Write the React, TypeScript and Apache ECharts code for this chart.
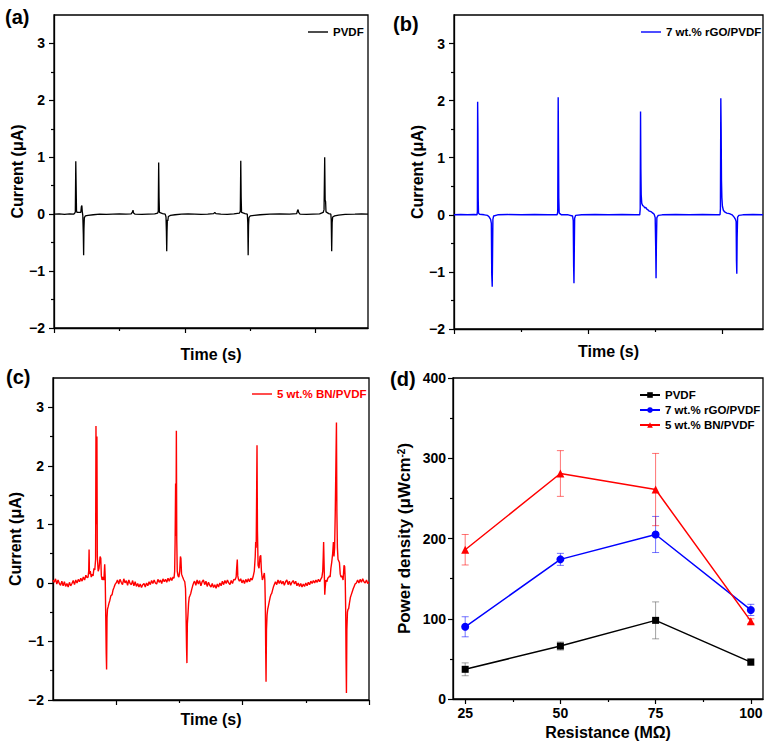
import React, { useEffect, useRef } from "react";
import * as echarts from "echarts";

const FONT = "'Liberation Sans', Arial, sans-serif";

// ---------- (a) PVDF current trace: [time, current µA] ----------
const pvdfCurrent: [number, number][] = [
  [0.0, 0.0], [0.08, 0.005], [0.16, -0.005], [0.24, 0.005], [0.3, 0.0],
  [0.318, 0.02], [0.326, 0.04], [0.333, 0.93], [0.339, 0.45], [0.344, 0.06], [0.352, 0.03],
  [0.41, 0.03], [0.418, 0.13], [0.426, 0.15], [0.432, 0.05], [0.44, -0.02],
  [0.448, -0.35], [0.453, -0.72], [0.458, -0.25], [0.464, -0.06], [0.48, -0.03],
  [0.52, -0.02], [0.6, -0.01], [0.7, 0.0], [0.8, -0.005], [0.9, 0.0], [1.0, 0.005],
  [1.1, 0.0], [1.18, 0.005], [1.2, 0.04], [1.208, 0.07], [1.216, 0.02], [1.24, 0.0],
  [1.34, -0.005], [1.44, 0.0], [1.54, 0.005], [1.585, 0.02], [1.594, 0.05], [1.6, 0.91],
  [1.606, 0.3], [1.612, 0.03], [1.66, 0.01], [1.7, 0.0], [1.712, -0.05], [1.718, -0.3],
  [1.723, -0.65], [1.728, -0.3], [1.733, -0.1], [1.74, -0.12], [1.748, -0.04], [1.78, -0.02],
  [1.85, -0.01], [1.95, 0.0], [2.05, 0.005], [2.15, 0.0], [2.25, -0.005], [2.35, 0.0],
  [2.44, 0.01], [2.458, 0.03], [2.466, 0.035], [2.475, 0.01], [2.55, 0.0], [2.65, -0.005],
  [2.75, 0.005], [2.835, 0.02], [2.848, 0.05], [2.855, 0.94], [2.861, 0.3], [2.867, 0.03],
  [2.92, 0.01], [2.955, 0.0], [2.962, -0.15], [2.968, -0.72], [2.974, -0.2], [2.98, -0.06],
  [3.0, -0.03], [3.06, -0.02], [3.15, -0.01], [3.3, 0.0], [3.45, 0.005], [3.6, 0.0],
  [3.71, 0.01], [3.722, 0.06], [3.731, 0.08], [3.74, 0.03], [3.76, 0.0], [3.86, -0.005],
  [3.96, 0.0], [4.06, 0.005], [4.115, 0.03], [4.128, 0.08], [4.138, 1.0], [4.145, 0.25],
  [4.152, 0.22], [4.158, 0.04], [4.2, 0.01], [4.232, 0.0], [4.238, -0.1], [4.245, -0.65],
  [4.252, -0.15], [4.26, -0.05], [4.29, -0.03], [4.35, -0.015], [4.45, -0.005], [4.6, 0.0],
  [4.7, 0.005], [4.8, 0.0],
];

// ---------- (b) 7 wt.% rGO/PVDF current trace ----------
const rgoCurrent: [number, number][] = [
  [0.0, 0.0], [0.1, 0.005], [0.2, 0.0], [0.3, 0.005], [0.342, 0.0], [0.348, 0.05],
  [0.352, 1.98], [0.356, 1.5], [0.36, 0.3], [0.365, 0.03], [0.38, 0.01], [0.45, 0.0],
  [0.5, -0.01], [0.525, -0.04], [0.545, -0.08], [0.556, -0.15], [0.562, -1.05], [0.569, -1.26],
  [0.574, -0.7], [0.579, -0.08], [0.59, -0.02], [0.65, 0.0], [0.8, 0.005], [1.0, 0.0],
  [1.2, 0.005], [1.4, 0.0], [1.535, 0.0], [1.544, 0.05], [1.551, 2.06], [1.556, 1.1],
  [1.56, 0.3], [1.566, 0.03], [1.6, 0.0], [1.7, 0.0], [1.765, -0.02], [1.775, -0.1],
  [1.781, -0.9], [1.786, -1.2], [1.791, -0.6], [1.796, -0.06], [1.81, -0.01], [1.9, 0.0],
  [2.1, 0.005], [2.3, 0.0], [2.5, 0.005], [2.7, 0.0], [2.765, 0.0], [2.772, 0.1],
  [2.777, 1.81], [2.782, 0.8], [2.787, 0.35], [2.795, 0.2], [2.81, 0.16], [2.825, 0.15],
  [2.84, 0.12], [2.855, 0.13], [2.87, 0.1], [2.885, 0.09], [2.9, 0.07], [2.92, 0.06],
  [2.94, 0.05], [2.96, 0.03], [2.98, 0.01], [2.995, -0.05], [3.003, -0.6], [3.008, -1.11],
  [3.013, -0.5], [3.02, -0.05], [3.04, -0.01], [3.1, 0.0], [3.3, 0.005], [3.5, 0.0],
  [3.7, 0.005], [3.9, 0.0], [3.96, 0.0], [3.966, 0.1], [3.972, 2.04], [3.977, 1.5],
  [3.982, 0.6], [3.988, 0.3], [3.996, 0.15], [4.01, 0.08], [4.03, 0.05], [4.06, 0.03],
  [4.1, 0.02], [4.14, 0.0], [4.17, -0.04], [4.19, -0.08], [4.2, -0.12], [4.205, -0.8],
  [4.21, -1.03], [4.215, -0.4], [4.222, -0.04], [4.24, -0.01], [4.3, 0.0], [4.45, 0.005],
  [4.6, 0.0],
];

// ---------- (c) 5 wt.% BN/PVDF current trace ----------
// Quiet stretches are logged every BN_DT seconds; pulses are listed point by point.
const BN_DT = 0.02;
const bnQuiet: { t0: number; values: number[] }[] = [
  { t0: 0.0, values: [0.05, 0.01, 0.07, -0.02, 0.05, -0.01, -0.04, 0.03, -0.05, 0.02, -0.06, -0.01, -0.07, 0.01, -0.05, -0.01, 0.04, -0.03, 0.05, 0.0, 0.06, 0.02, 0.08, 0.03, 0.1, 0.05, 0.13, 0.09] },
  { t0: 1.0, values: [0.0, 0.05, -0.02, 0.06, 0.01, -0.03, 0.07, 0.0, 0.04, -0.04, 0.05, -0.01, -0.03, 0.04, -0.05, 0.02, -0.06, -0.01, -0.07, -0.02, -0.08, -0.03, -0.01, -0.07, 0.0, -0.05, 0.02, -0.03, 0.04, -0.01, 0.05, 0.0, -0.02, 0.06, 0.01, 0.05, -0.01, 0.07, 0.02, 0.06, 0.01, 0.08, 0.03, 0.09, 0.04, 0.1] },
  { t0: 2.24, values: [0.03, -0.04, 0.05, -0.02, 0.04, -0.05, 0.02, 0.05, -0.03, 0.03, -0.06, 0.01, -0.04, -0.07, -0.01, -0.08, -0.03, -0.09, -0.02, -0.07, 0.0, -0.05, 0.03, -0.03, 0.04, -0.01, 0.05, 0.0, -0.03, 0.04, -0.01, 0.06, 0.05] },
  { t0: 2.95, values: [0.03, 0.07, 0.0, 0.05, -0.01, 0.06, 0.01, 0.07, 0.02, 0.08, 0.05] },
  { t0: 3.52, values: [0.02, -0.03, 0.05, -0.01, 0.04, -0.02, 0.03, -0.04, 0.02, 0.05, -0.03, 0.03, -0.04, 0.01, 0.04, -0.02, 0.03, -0.05, 0.0, -0.06, -0.01, -0.07, -0.02, -0.06, 0.0, -0.05, 0.01, -0.03, 0.03, -0.01, 0.04, 0.0, 0.05, 0.01, 0.06, 0.02, 0.07] },
  { t0: 4.8, values: [0.0, 0.05, 0.0, 0.06, 0.01, 0.07, 0.02, 0.0, 0.05, -0.01, 0.02] },
];
const bnPulses: [number, number][] = [
  [0.555, 0.1], [0.565, 0.2], [0.571, 0.57], [0.577, 0.15], [0.59, 0.2], [0.605, 0.1],
  [0.62, 0.15], [0.634, 0.12], [0.648, 0.25], [0.661, 0.22], [0.674, 0.4], [0.68, 2.68],
  [0.688, 1.0], [0.695, 2.5], [0.701, 0.45], [0.715, 0.2], [0.729, 0.25], [0.745, 0.45],
  [0.756, 0.42], [0.765, 0.12], [0.777, 0.05], [0.79, 0.1], [0.805, 0.05], [0.818, 0.32],
  [0.826, 0.1], [0.833, -0.45], [0.842, -1.2], [0.848, -1.48], [0.855, -0.6], [0.862, -0.45],
  [0.872, -0.41], [0.885, -0.35], [0.899, -0.3], [0.915, -0.22], [0.935, -0.2], [0.95, -0.12],
  [0.965, -0.08], [0.985, -0.02],
  [1.915, 0.08], [1.925, 0.2], [1.932, 0.7], [1.94, 1.7], [1.946, 0.8], [1.952, 2.6],
  [1.958, 0.75], [1.966, 0.2], [1.978, 0.12], [1.992, 0.1], [2.005, 0.2], [2.016, 0.45],
  [2.024, 0.42], [2.034, 0.15], [2.051, 0.1], [2.07, 0.05], [2.085, 0.02], [2.097, -0.1],
  [2.105, -0.55], [2.113, -1.1], [2.119, -1.37], [2.126, -0.7], [2.135, -0.55], [2.145, -0.35],
  [2.155, -0.25], [2.166, -0.22], [2.18, -0.18], [2.193, -0.12], [2.21, -0.05], [2.225, 0.0],
  [2.898, 0.1], [2.906, 0.25], [2.916, 0.4], [2.924, 0.12], [2.935, 0.06],
  [3.165, 0.1], [3.185, 0.2], [3.2, 0.45], [3.207, 0.7], [3.215, 0.6], [3.222, 1.5],
  [3.228, 2.35], [3.235, 0.9], [3.245, 0.3], [3.26, 0.25], [3.275, 0.45], [3.287, 0.47],
  [3.298, 0.2], [3.313, 0.05], [3.328, 0.1], [3.344, 0.17], [3.352, 0.05], [3.36, -0.4],
  [3.366, -1.2], [3.371, -1.69], [3.378, -0.8], [3.387, -0.55], [3.397, -0.45], [3.407, -0.4],
  [3.42, -0.33], [3.435, -0.25], [3.448, -0.2], [3.461, -0.18], [3.475, -0.12], [3.49, -0.06],
  [3.505, -0.02],
  [4.255, 0.1], [4.268, 0.2], [4.276, 0.45], [4.282, 0.7], [4.29, 0.3], [4.3, -0.2],
  [4.306, -0.1], [4.318, 0.05], [4.333, 0.02], [4.348, 0.08], [4.362, 0.1], [4.375, 0.12],
  [4.385, 0.1], [4.397, 0.25], [4.41, 0.35], [4.425, 0.5], [4.437, 0.7], [4.446, 0.45],
  [4.456, 0.6], [4.466, 1.2], [4.476, 2.0], [4.485, 2.74], [4.492, 1.2], [4.5, 0.6],
  [4.51, 0.4], [4.52, 0.38], [4.532, 0.35], [4.545, 0.15], [4.558, 0.1], [4.572, 0.12],
  [4.59, 0.05], [4.605, 0.3], [4.615, 0.28], [4.624, 0.05], [4.631, -0.45], [4.637, -1.3],
  [4.643, -1.88], [4.65, -0.8], [4.659, -0.5], [4.668, -0.45], [4.678, -0.44], [4.69, -0.35],
  [4.705, -0.25], [4.72, -0.2], [4.735, -0.15], [4.75, -0.1], [4.765, -0.06], [4.78, -0.02],
];

// ---------- (d) power density vs load resistance ----------
const resistance = [25, 50, 75, 100];
const pvdfPower = [37, 66, 98, 46];
const pvdfPowerErr = [8, 5, 23, 4];
const rgoPower = [90, 174, 205, 111];
const rgoPowerErr = [12.5, 7.5, 22.5, 7];
const bnPower = [186, 281, 261, 97];
const bnPowerErr = [19, 28.5, 45, 3];

// ---------- axis ticks ----------
const currentTicks = [-2, -1, 0, 1, 2, 3];
const currentMinorTicks = [-1.5, -0.5, 0.5, 1.5, 2.5];
const resistanceTicks = [25, 50, 75, 100];
const resistanceMinorTicks = [37.5, 62.5, 87.5];

const BLACK = "#000000";
const BLUE = "#0000ff";
const RED = "#ff0000";

const bnCurrent: [number, number][] = (() => {
  const pts: [number, number][] = [...bnPulses];
  bnQuiet.forEach((seg) =>
    seg.values.forEach((v, i) => pts.push([+(seg.t0 + i * BN_DT).toFixed(3), v]))
  );
  return pts.sort((a, b) => a[0] - b[0]);
})();

const axisLineStyle = { color: "#000", width: 1.3 };
const tickLabel = { fontFamily: FONT, fontWeight: "bold" as const, fontSize: 14, color: "#000" };
const titleText = { fontFamily: FONT, fontWeight: "bold" as const, fontSize: 16, color: "#000" };
const fmtMinus = (v: number) => (v < 0 ? "\u2212" + Math.abs(v) : String(v));

function timeXAxes(gridIndex: number, max: number, major: number[], minor: number[], nameGap: number) {
  return [
    {
      type: "value", gridIndex, min: 0, max, position: "bottom",
      name: "Time (s)", nameLocation: "middle", nameGap, nameTextStyle: titleText,
      axisLine: { show: true, onZero: false, lineStyle: axisLineStyle },
      axisTick: { show: true, customValues: major, length: 5, lineStyle: { color: "#000", width: 1.2 } },
      axisLabel: { show: false }, splitLine: { show: false },
    },
    {
      type: "value", gridIndex, min: 0, max, position: "bottom",
      axisLine: { show: false, onZero: false },
      axisTick: { show: true, customValues: minor, length: 3, lineStyle: { color: "#000", width: 1.2 } },
      axisLabel: { show: false }, splitLine: { show: false },
    },
  ];
}

function currentYAxes(gridIndex: number, nameGap: number) {
  return [
    {
      type: "value", gridIndex, min: -2, max: 3.5, position: "left",
      name: "Current (\u03bcA)", nameLocation: "middle", nameGap, nameTextStyle: titleText,
      axisLine: { show: true, onZero: false, lineStyle: axisLineStyle },
      axisTick: { show: true, customValues: currentTicks, length: 5, lineStyle: { color: "#000", width: 1.2 } },
      axisLabel: { show: true, customValues: currentTicks, formatter: fmtMinus, margin: 9, ...tickLabel },
      splitLine: { show: false },
    },
    {
      type: "value", gridIndex, min: -2, max: 3.5, position: "left",
      axisLine: { show: false, onZero: false },
      axisTick: { show: true, customValues: currentMinorTicks, length: 3, lineStyle: { color: "#000", width: 1.2 } },
      axisLabel: { show: false }, splitLine: { show: false },
    },
  ];
}

// Legend for a single trace: a short plain stroke followed by the sample name.
function traceLegend(name: string, left: number, top: number, color: string) {
  return {
    data: [{ name, icon: "rect" }], left, top, padding: 0, itemWidth: 20, itemHeight: 1.4,
    selectedMode: false, formatter: (n: string) => n.trim(),
    textStyle: { fontFamily: FONT, fontWeight: "bold", fontSize: 11.5, color, lineHeight: 14 },
  };
}

function traceSeries(name: string, data: [number, number][], color: string, axis: number, width: number) {
  return {
    name, type: "line", xAxisIndex: axis, yAxisIndex: axis, data,
    symbol: "none", showSymbol: false,
    lineStyle: { color, width }, itemStyle: { color },
  };
}

function errorBars(values: number[], errs: number[], color: string) {
  return {
    type: "custom", xAxisIndex: 6, yAxisIndex: 6, z: 1,
    data: resistance.map((r, i) => [r, values[i] - errs[i], values[i] + errs[i]]),
    encode: { x: 0, y: [1, 2] },
    renderItem: (_p: any, api: any) => {
      const x = api.value(0);
      const lo = api.coord([x, api.value(1)]);
      const hi = api.coord([x, api.value(2)]);
      const cap = 3.5;
      const style = { stroke: color, lineWidth: 1, opacity: 0.55 };
      return {
        type: "group",
        children: [
          { type: "line", shape: { x1: lo[0], y1: lo[1], x2: hi[0], y2: hi[1] }, style },
          { type: "line", shape: { x1: lo[0] - cap, y1: lo[1], x2: lo[0] + cap, y2: lo[1] }, style },
          { type: "line", shape: { x1: hi[0] - cap, y1: hi[1], x2: hi[0] + cap, y2: hi[1] }, style },
        ],
      };
    },
  };
}

function powerSeries(name: string, values: number[], color: string, symbol: string, size: number) {
  return {
    name, type: "line", xAxisIndex: 6, yAxisIndex: 6, z: 3,
    data: resistance.map((r, i) => [r, values[i]]),
    symbol, symbolSize: size, showSymbol: true,
    lineStyle: { color, width: 1.5 }, itemStyle: { color },
  };
}

function panelLabel(text: string, x: number, y: number) {
  return {
    type: "text", x, y,
    style: { text, fontFamily: FONT, fontWeight: "bold", fontSize: 20, fill: "#000", align: "left", verticalAlign: "middle" },
  };
}

function buildOption() {
  const gridBox = { show: true, borderColor: "#000", borderWidth: 1.3, backgroundColor: "transparent", containLabel: false };
  return {
    animation: false,
    backgroundColor: "#ffffff",
    grid: [
      { ...gridBox, left: 54, top: 15, width: 314, height: 313 },
      { ...gridBox, left: 454, top: 15, width: 309, height: 314 },
      { ...gridBox, left: 53, top: 378, width: 316, height: 322 },
      { ...gridBox, left: 453, top: 378, width: 310, height: 321 },
    ],
    xAxis: [
      ...timeXAxes(0, 4.8, [0, 2, 4], [1, 3], 18),
      ...timeXAxes(1, 4.6, [0, 2, 4], [1, 3], 14),
      ...timeXAxes(2, 5.0, [1, 3, 5], [2, 4], 11),
      {
        type: "value", gridIndex: 3, min: 21.8, max: 103.2, position: "bottom",
        name: "Resistance (M\u03a9)", nameLocation: "middle", nameGap: 25, nameTextStyle: titleText,
        axisLine: { show: true, onZero: false, lineStyle: axisLineStyle },
        axisTick: { show: true, customValues: resistanceTicks, length: 5, lineStyle: { color: "#000", width: 1.2 } },
        axisLabel: { show: true, customValues: resistanceTicks, margin: 7, ...tickLabel },
        splitLine: { show: false },
      },
      {
        type: "value", gridIndex: 3, min: 21.8, max: 103.2, position: "bottom",
        axisLine: { show: false, onZero: false },
        axisTick: { show: true, customValues: resistanceMinorTicks, length: 3, lineStyle: { color: "#000", width: 1.2 } },
        axisLabel: { show: false }, splitLine: { show: false },
      },
    ],
    yAxis: [
      ...currentYAxes(0, 26),
      ...currentYAxes(1, 26),
      ...currentYAxes(2, 30),
      {
        type: "value", gridIndex: 3, min: 0, max: 400, interval: 100, position: "left",
        name: "Power density (\u03bcWcm{sup|-2})", nameLocation: "middle", nameGap: 40,
        nameTextStyle: {
          ...titleText, fontSize: 17,
          rich: { sup: { fontFamily: FONT, fontWeight: "bold", fontSize: 10, color: "#000", verticalAlign: "top", lineHeight: 10 } },
        },
        axisLine: { show: true, onZero: false, lineStyle: axisLineStyle },
        axisTick: { show: true, length: 5, lineStyle: { color: "#000", width: 1.2 } },
        minorTick: { show: true, splitNumber: 2, length: 3, lineStyle: { color: "#000", width: 1.2 } },
        axisLabel: { show: true, margin: 7, ...tickLabel },
        splitLine: { show: false },
      },
    ],
    legend: [
      traceLegend("PVDF ", 308, 25, BLACK),
      traceLegend("7 wt.% rGO/PVDF ", 641, 25, BLACK),
      traceLegend("5 wt.% BN/PVDF ", 252, 387, RED),
      {
        data: ["PVDF", "7 wt.% rGO/PVDF", "5 wt.% BN/PVDF"],
        orient: "vertical", left: 639, top: 388, padding: 0, itemGap: 1,
        itemWidth: 20, itemHeight: 7, selectedMode: false,
        textStyle: { fontFamily: FONT, fontWeight: "bold", fontSize: 11.5, color: "#000", lineHeight: 14 },
      },
    ],
    graphic: [
      panelLabel("(a)", 5, 17),
      panelLabel("(b)", 393, 24),
      panelLabel("(c)", 6, 377),
      panelLabel("(d)", 390, 379),
    ],
    series: [
      traceSeries("PVDF ", pvdfCurrent, BLACK, 0, 1.3),
      traceSeries("7 wt.% rGO/PVDF ", rgoCurrent, BLUE, 2, 1.4),
      traceSeries("5 wt.% BN/PVDF ", bnCurrent, RED, 4, 1.4),
      errorBars(pvdfPower, pvdfPowerErr, "#555555"),
      errorBars(rgoPower, rgoPowerErr, BLUE),
      errorBars(bnPower, bnPowerErr, RED),
      powerSeries("PVDF", pvdfPower, BLACK, "rect", 7),
      powerSeries("7 wt.% rGO/PVDF", rgoPower, BLUE, "circle", 8),
      powerSeries("5 wt.% BN/PVDF", bnPower, RED, "triangle", 8),
    ],
  };
}

export default function App() {
  const ref = useRef<HTMLDivElement>(null);
  useEffect(() => {
    if (!ref.current) return;
    const chart = echarts.init(ref.current, undefined, { renderer: "svg" });
    chart.setOption(buildOption() as any);
    return () => chart.dispose();
  }, []);
  return (
    <div
      ref={ref}
      style={{ position: "fixed", left: 0, top: 0, width: 774, height: 749, background: "#fff" }}
    />
  );
}
